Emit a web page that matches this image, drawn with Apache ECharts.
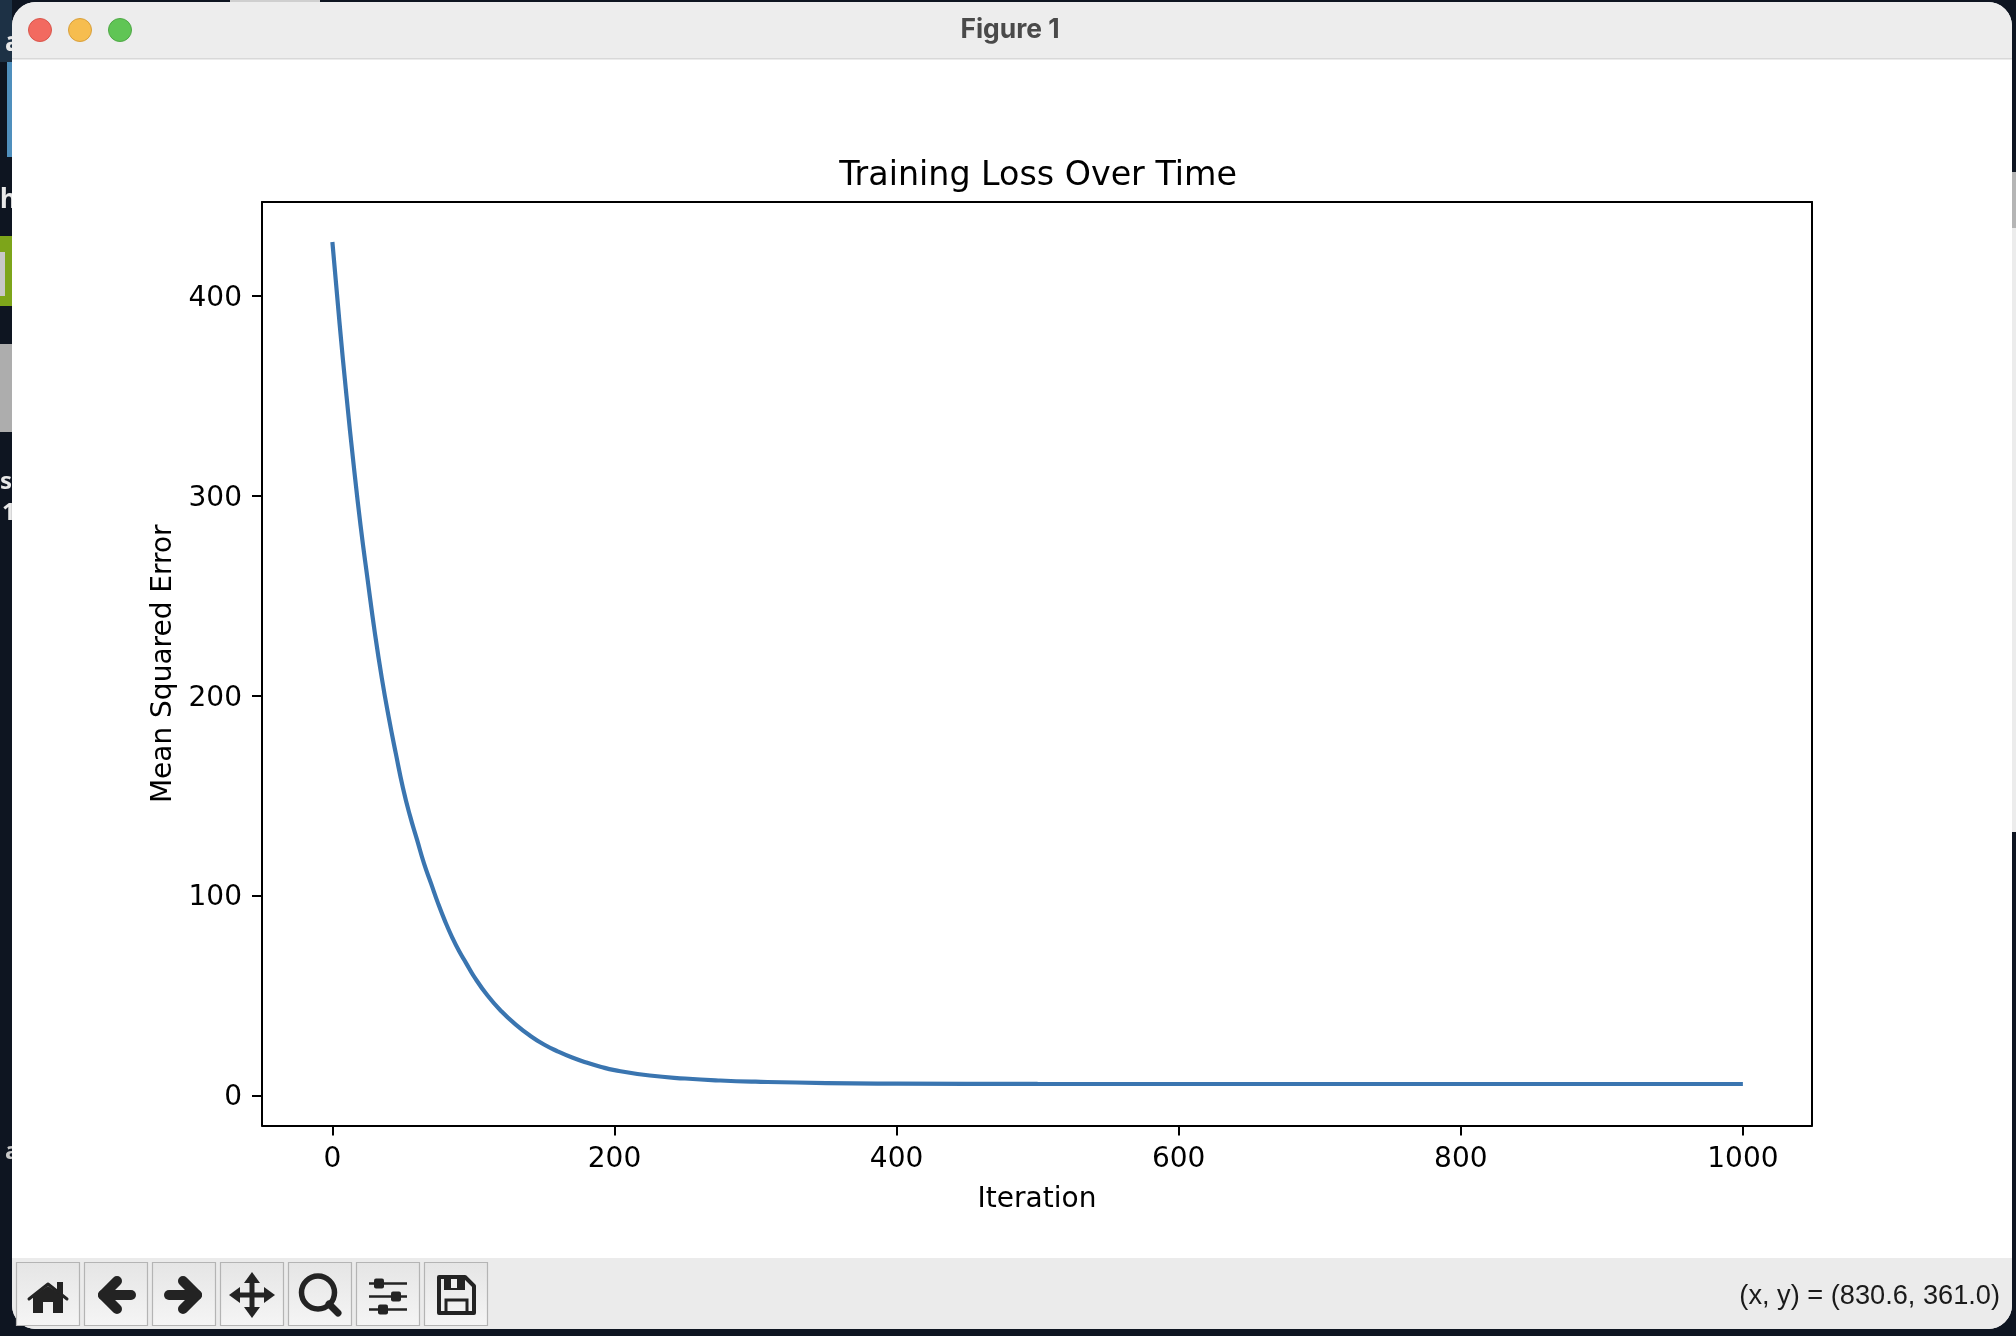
<!DOCTYPE html>
<html><head><meta charset="utf-8">
<script src="https://cdn.jsdelivr.net/npm/echarts@6/dist/echarts.min.js"></script>
<style>html,body{margin:0;padding:0;background:#0e1521;overflow:hidden}#c{width:2016px;height:1336px}</style>
</head><body><div id="c"></div>
<script>
const iterations = [0,5,10,15,20,25,30,35,40,45,50,55,60,65,70,75,80,85,90,95,100,110,120,130,140,150,160,170,180,190,200,225,250,275,300,350,400,500,700,1000];
const mseValues  = [427,387,350,316,285,258,232,209,189,171,154,140,128,116,106,96,87,79,72,66,60,50,42,35.5,30,25.5,22,19,16.5,14.4,12.7,10,8.5,7.5,6.9,6.2,5.95,5.8,5.75,5.75];
const xTickValues = [0,200,400,600,800,1000];
const yTickValues = [0,100,200,300,400];
const titleText = 'Training Loss Over Time';
const xName = 'Iteration';
const yName = 'Mean Squared Error';
const windowTitle = 'Figure 1';
const statusText = '(x, y) = (830.6, 361.0)';

const ink = '#232323';
const font = '"DejaVu Sans"';
const rect = (x,y,w,h,fill,extra={}) => ({type:'rect',shape:{x,y,width:w,height:h,r:extra.r||0},style:{fill,stroke:extra.stroke||null,lineWidth:extra.lw||0}});
const line = (pts,lw,cap='round') => ({type:'polyline',shape:{points:pts},style:{fill:null,stroke:ink,lineWidth:lw,lineCap:cap,lineJoin:'round'}});
const poly = (pts,fill=ink) => ({type:'polygon',shape:{points:pts},style:{fill}});
const circle = (cx,cy,r,fill,stroke,lw=1) => ({type:'circle',shape:{cx,cy,r},style:{fill,stroke,lineWidth:lw}});
const txt = (text,x,y,f,fill,align='left') => ({type:'text',style:{text,x,y,font:f,fill,align,verticalAlign:'middle'}});

const chrome = [];
// desktop behind the window
chrome.push(rect(0,0,2016,1336,'#0e1521'));
chrome.push(rect(0,0,12,62,'#1d3145'));
chrome.push(rect(7,62,5,95,'#4f8fbd'));
chrome.push(rect(0,236,12,70,'#7da51a'));
chrome.push(rect(0,252,5,44,'#c8c8c8'));
chrome.push(rect(0,344,12,88,'#adadad'));
chrome.push(rect(2012,172,4,660,'#ececec'));
chrome.push(rect(2012,172,4,56,'#b5b5b5'));
chrome.push(rect(230,0,90,2,'#cfcfcf'));
chrome.push(txt('a',5,44,'bold 26px "Noto Sans"','#e8e8e8'));
chrome.push(txt('h',0,201,'bold 26px "Noto Sans"','#e8e8e8'));
chrome.push(txt('s',0,482,'bold 24px "Noto Sans"','#e8e8e8'));
chrome.push(txt('1',2,513,'bold 24px "Noto Sans"','#e8e8e8'));
chrome.push(txt('a',5,1152,'bold 24px "Noto Sans"','#c8c8c8'));
// window
chrome.push(rect(12,2,2000,1327,'#ffffff',{r:24}));
chrome.push(rect(12,2,2000,56,'#ededed',{r:[24,24,0,0]}));
chrome.push(rect(12,58,2000,1.5,'#d8d8d8'));
chrome.push(rect(12,1258,2000,71,'#ebebeb',{r:[0,0,24,24]}));
chrome.push(circle(40,30,11.5,'#f26a60','#d9564c'));
chrome.push(circle(80,30,11.5,'#f6bd4f','#d9a03c'));
chrome.push(circle(120,30,11.5,'#60c555','#4fa846'));
chrome.push(txt(windowTitle,1010,30,'bold 26.4px Inter','#4a4a4a','center'));
chrome.push(txt(statusText,2000,1297,'27.2px "Liberation Sans"','#1a1a1a','right'));
// toolbar buttons
for (let i=0;i<7;i++){
  chrome.push({type:'rect',shape:{x:16.5+68*i,y:1262.5,width:63,height:63},
    style:{stroke:'#b4b4b4',lineWidth:1.2,fill:{type:'linear',x:0,y:0,x2:0,y2:1,colorStops:[{offset:0,color:'#e5e5e5'},{offset:1,color:'#f5f5f5'}]}}});
}
// home
chrome.push(rect(57,1282,6,12,ink));
chrome.push(poly([[33,1296],[48,1286],[63,1296],[63,1313],[53,1313],[53,1302],[43,1302],[43,1313],[33,1313]]));
chrome.push(line([[29,1299],[48,1284],[67,1299]],3));
// back
chrome.push(line([[117,1281],[103,1295],[117,1309]],10));
chrome.push(line([[103,1295],[131,1295]],10));
// forward
chrome.push(line([[183,1281],[197,1295],[183,1309]],10));
chrome.push(line([[169,1295],[197,1295]],10));
// move
chrome.push(line([[235,1295],[269,1295]],5,'butt'));
chrome.push(line([[252,1278],[252,1312]],5,'butt'));
chrome.push(poly([[229,1295],[240,1287],[240,1303]]));
chrome.push(poly([[275,1295],[264,1287],[264,1303]]));
chrome.push(poly([[252,1272],[244,1283],[260,1283]]));
chrome.push(poly([[252,1318],[244,1307],[260,1307]]));
// zoom
chrome.push(circle(318,1292.5,16.5,null,ink,5.5));
chrome.push(line([[329,1304],[338,1313]],7));
// sliders
[[1283.5,379],[1296.5,396],[1309.5,383]].forEach(([y,k])=>{
  chrome.push(line([[369,y],[407,y]],2.5,'butt'));
  chrome.push(rect(k-5,y-5,10,10,ink,{r:2}));
});
// save
chrome.push({type:'polygon',shape:{points:[[439,1277],[465,1277],[474,1286],[474,1313],[439,1313]]},style:{fill:null,stroke:ink,lineWidth:4,lineJoin:'round'}});
chrome.push(rect(444,1278,21,12,ink));
chrome.push(rect(451,1279,6,9,'#efefef'));
chrome.push({type:'rect',shape:{x:446,y:1300,width:21,height:13},style:{fill:null,stroke:ink,lineWidth:3}});

const spine = {show:true,onZero:false,lineStyle:{color:'#000',width:2}};
const xRange = {min:-49.9,max:1049};
const yRange = {min:-15,max:447};
const labelStyle = {fontFamily:font,fontSize:28,color:'#000',hideOverlap:false,formatter:v=>String(v)};
const nameStyle = {fontFamily:font,fontSize:28,color:'#000'};
const tickStyle = {color:'#000',width:2};
const frameAxis = (pos,range)=>Object.assign({type:'value',position:pos,splitLine:{show:false},axisLine:spine,axisTick:{show:false},axisLabel:{show:false}},range);

const chart = echarts.init(document.getElementById('c'),null,{renderer:'canvas',width:2016,height:1336});
chart.setOption({
  animation:false,
  backgroundColor:'transparent',
  graphic:{elements:chrome},
  title:{text:titleText,left:1033,top:171.5,textAlign:'center',textVerticalAlign:'middle',
    textStyle:{fontFamily:font,fontWeight:'normal',fontSize:33.3,color:'#000'}},
  grid:{left:262,right:204,top:202,bottom:210.5},
  xAxis:[
    Object.assign({type:'value',position:'bottom',splitLine:{show:false},axisLine:spine,name:xName,nameLocation:'middle',nameGap:60.5,nameTextStyle:nameStyle,
      axisTick:{show:true,length:10,customValues:xTickValues,lineStyle:tickStyle},
      axisLabel:Object.assign({customValues:xTickValues,margin:20},labelStyle)},xRange),
    frameAxis('top',xRange)
  ],
  yAxis:[
    Object.assign({type:'value',position:'left',splitLine:{show:false},axisLine:spine,name:yName,nameLocation:'middle',nameGap:84,nameTextStyle:nameStyle,
      axisTick:{show:true,length:10,customValues:yTickValues,lineStyle:tickStyle},
      axisLabel:Object.assign({customValues:yTickValues,margin:20},labelStyle,{
        formatter:v=>'{t|'+v+'}',
        rich:{t:{fontFamily:font,fontSize:28,color:'#000',padding:[5,0,0,0]}}
      })},yRange),
    frameAxis('right',yRange)
  ],
  series:[{type:'line',xAxisIndex:0,yAxisIndex:0,data:iterations.map((x,i)=>[x,mseValues[i]]),showSymbol:false,smooth:0.5,
    lineStyle:{color:'#3a75b0',width:4.2,cap:'butt'}}]
});
</script></body></html>
